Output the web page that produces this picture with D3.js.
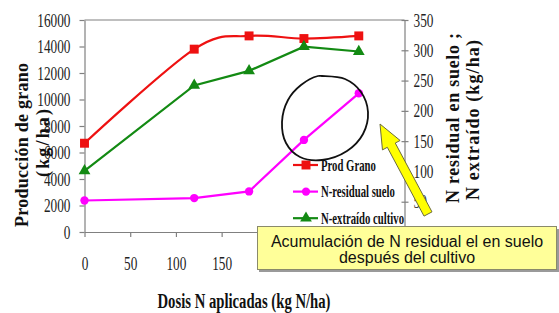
<!DOCTYPE html>
<html>
<head>
<meta charset="utf-8">
<script src="https://cdn.jsdelivr.net/npm/d3@7"></script>
<style>
    body { margin: 0; background: #fff; }
    svg { display: block; }
</style>
</head>
<body>
<svg width="559" height="313"></svg>
<script>
// Data
const doses = [0, 120, 180, 240, 300]
const prodGrano = [6700, 13800, 14800, 14600, 14800]   // kg/ha, left axis
const nResidual = [52, 56, 67, 152, 229]               // kg N/ha, right axis
const nExtraido = [101, 242, 266, 306, 298]            // kg N/ha, right axis
const xTicks = [0, 50, 100, 150, 200, 250, 300, 350]
const leftTicks = [0, 2000, 4000, 6000, 8000, 10000, 12000, 14000, 16000]
const rightTicks = [0, 50, 100, 150, 200, 250, 300, 350]
const legendLabels = ["Prod Grano", "N-residual suelo", "N-extraído cultivo"]

const SERIF = "'Liberation Serif', 'Times New Roman', serif"
const SANS = "'Liberation Sans', Arial, sans-serif"
const AXIS = "#808080"
const SQ = 0.7 // the picture is squeezed horizontally

const svg = d3.select("svg")

const x = d3.scaleLinear().domain([0, 350]).range([84.5, 404.5])
const yL = d3.scaleLinear().domain([0, 16000]).range([232, 20])
const yR = d3.scaleLinear().domain([0, 350]).range([232, 20])

const series = [
    {name: legendLabels[0], values: prodGrano, y: yL, color: "#ee1111", symbol: d3.symbolSquare, size: 80, curve: d3.curveCatmullRom.alpha(0)},
    {name: legendLabels[1], values: nResidual, y: yR, color: "#ff00ff", symbol: d3.symbolCircle, size: 55, curve: d3.curveLinear},
    {name: legendLabels[2], values: nExtraido, y: yR, color: "#138a13", symbol: d3.symbolTriangle, size: 60, curve: d3.curveLinear},
]

// squeeze axis tick texts horizontally
function squeezeTicks(g, sx) {
    g.selectAll("text").each(function () {
        const t = d3.select(this)
        const xv = +t.attr("x") || 0
        t.attr("x", xv / sx).attr("transform", `scale(${sx},1)`)
    })
}

function styleAxis(g) {
    g.attr("font-family", SERIF).attr("font-size", 19)
    g.selectAll(".domain").attr("stroke", AXIS).attr("stroke-width", 1.2)
    g.selectAll(".tick line").attr("stroke", AXIS).attr("stroke-width", 1.2)
    g.selectAll("text").attr("fill", "#222")
}

const fmt = d3.format("d")

// plot top border
svg.append("line")
    .attr("x1", x(0)).attr("x2", x(350))
    .attr("y1", yL(16000)).attr("y2", yL(16000))
    .attr("stroke", AXIS).attr("stroke-width", 1.2)

// left axis
const gl = svg.append("g")
    .attr("transform", `translate(${x(0)},0)`)
    .call(d3.axisLeft(yL).tickValues(leftTicks).tickFormat(fmt).tickSize(5).tickSizeOuter(0).tickPadding(9))
styleAxis(gl)
squeezeTicks(gl, SQ)

// right axis
const gr = svg.append("g")
    .attr("transform", `translate(${x(350)},0)`)
    .call(d3.axisRight(yR).tickValues(rightTicks).tickFormat(fmt).tickSize(4).tickSizeOuter(0).tickPadding(5))
styleAxis(gr)
gr.selectAll(".tick line").attr("x1", -3)
squeezeTicks(gr, SQ)

// bottom axis
const gb = svg.append("g")
    .attr("transform", `translate(0,${yL(0)})`)
    .call(d3.axisBottom(x).tickValues(xTicks).tickFormat(fmt).tickSize(5).tickSizeOuter(0))
styleAxis(gb)
gb.selectAll("text").attr("y", 25)
squeezeTicks(gb, SQ)

// lines and markers
series.forEach(s => {
    const pts = doses.map((d, i) => [x(d), s.y(s.values[i])])
    svg.append("path")
        .attr("d", d3.line().curve(s.curve)(pts))
        .attr("fill", "none")
        .attr("stroke", s.color)
        .attr("stroke-width", 2.2)

    svg.append("g").selectAll("path")
        .data(pts)
        .enter()
        .append("path")
        .attr("transform", p => `translate(${p[0]},${p[1]})`)
        .attr("d", d3.symbol().type(s.symbol).size(s.size))
        .attr("fill", s.color)
})

// legend
const legend = svg.append("g").attr("transform", "translate(293,165)")
series.forEach((s, i) => {
    const row = legend.append("g").attr("transform", `translate(0,${i * 26.6})`)
    row.append("line").attr("x1", 0).attr("x2", 25)
        .attr("stroke", s.color).attr("stroke-width", 2.2)
    row.append("path").attr("transform", "translate(13,0)")
        .attr("d", d3.symbol().type(s.symbol).size(s.size))
        .attr("fill", s.color)
    row.append("text")
        .attr("transform", `translate(28,5.5) scale(0.67,1)`)
        .style("font-family", SERIF).style("font-size", "16px").style("font-weight", "bold")
        .attr("fill", "#111")
        .text(s.name)
})

// axis titles
svg.append("text")
    .attr("transform", `translate(244,308) scale(${SQ},1)`)
    .attr("text-anchor", "middle")
    .style("font-family", SERIF).style("font-size", "21px").style("font-weight", "bold")
    .attr("fill", "#111")
    .text("Dosis N aplicadas (kg N/ha)")

function vTitle(cx, cy, len, txt) {
    svg.append("text")
        .attr("transform", `translate(${cx},${cy}) rotate(-90)`)
        .attr("x", -len / 2)
        .attr("dy", "0.34em")
        .attr("textLength", len)
        .attr("lengthAdjust", "spacing")
        .style("font-family", SERIF).style("font-size", "18px").style("font-weight", "bold")
        .attr("fill", "#111")
        .text(txt)
}
vTitle(22, 145, 164, "Producción de grano")
vTitle(43, 143, 68, "(kg/ha)")
vTitle(453, 118, 170, "N residual en suelo ;")
vTitle(473, 120, 160, "N extraído (kg/ha)")

// hand drawn circle around the residual N rise
const loop = [[322, 76], [345, 79], [361, 92], [368, 112], [363, 134], [347, 151], [322, 160],
    [300, 157], [286, 143], [282, 122], [288, 100], [301, 85], [318, 76]]
svg.append("path")
    .attr("d", d3.line().curve(d3.curveCatmullRomClosed)(loop))
    .attr("fill", "none").attr("stroke", "#111").attr("stroke-width", 1.8)

// yellow arrow
const tip = [380, 124], tail = [428, 214]
const len = Math.hypot(tail[0] - tip[0], tail[1] - tip[1])
const u = [(tail[0] - tip[0]) / len, (tail[1] - tip[1]) / len]
const n = [-u[1], u[0]]
const at = (t, w) => [tip[0] + u[0] * t + n[0] * w, tip[1] + u[1] * t + n[1] * w]
svg.append("path")
    .attr("d", d3.line()([tip, at(24, 10), at(24, 4.5), at(len, 4.5), at(len, -4.5), at(24, -4.5), at(24, -10)]) + "Z")
    .attr("fill", "#ffff00").attr("stroke", "#6b6b3a").attr("stroke-width", 1)

// annotation box
svg.append("rect").attr("x", 259).attr("y", 229).attr("width", 300).attr("height", 43).attr("fill", "#9a9a9a")
svg.append("rect").attr("x", 257.5).attr("y", 226.5).attr("width", 299).attr("height", 43)
    .attr("fill", "#ffff99").attr("stroke", "#8a8a6a").attr("stroke-width", 1)
const boxText = svg.append("text")
    .attr("text-anchor", "middle")
    .style("font-family", SANS).style("font-size", "16px")
    .attr("fill", "#111")
boxText.append("tspan").attr("x", 407).attr("y", 246.5).text("Acumulación de N residual el en suelo")
boxText.append("tspan").attr("x", 407).attr("y", 263).text("después del cultivo")
</script>
</body>
</html>
